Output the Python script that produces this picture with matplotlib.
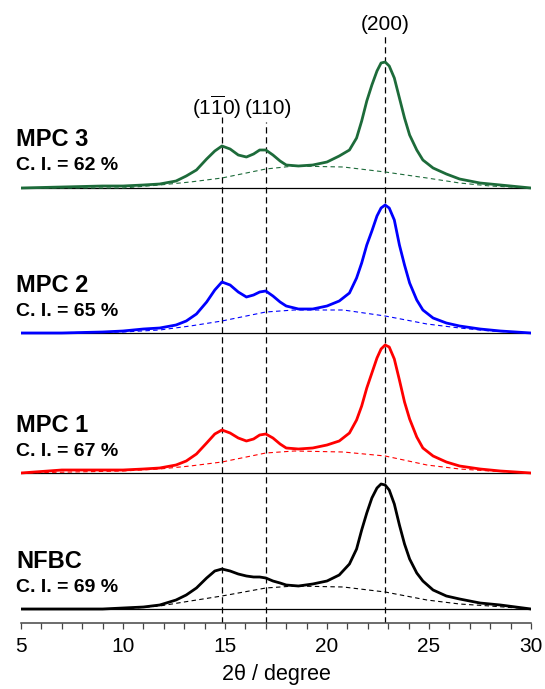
import matplotlib
matplotlib.use("Agg")
import matplotlib.pyplot as plt
import numpy as np

plt.rcParams['font.family'] = ['Liberation Sans', 'DejaVu Sans']
plt.rcParams['mathtext.fontset'] = 'custom'
plt.rcParams['mathtext.rm'] = 'Liberation Sans'

# Data (intensity in arbitrary units)
two_theta = [5, 7, 9, 10, 11, 11.8, 12.6, 13.1, 13.6, 14.1, 14.5, 14.85, 15.25, 15.65,
             16.05, 16.4, 16.7, 17.0, 17.35, 17.7, 18.0, 18.6, 19.3, 20.0, 20.6, 21.1,
             21.45, 21.7, 21.95, 22.2, 22.45, 22.65, 22.85, 23.05, 23.3, 23.55, 23.8,
             24.05, 24.4, 24.7, 25.2, 25.85, 26.5, 27.5, 28.5, 30]
nfbc = [0, 0, 0, 1, 2, 4, 9, 14, 21, 31, 38, 40, 38, 35, 33, 32, 32, 31, 28, 26, 24, 23,
        25, 28, 34, 45, 60, 79, 96, 111, 121, 125, 124, 119, 105, 84, 65, 50, 36, 28,
        19, 13, 10, 6, 4, 0]
mpc1 = [0, 3, 3, 3, 4, 5, 8, 12, 19, 30, 39, 43, 40, 35, 32, 34, 38, 39, 35, 29, 25, 24,
        25, 28, 32, 40, 53, 67, 85, 100, 115, 124, 128, 126, 114, 93, 71, 54, 36, 25,
        17, 11, 7, 4, 2, 0]
mpc2 = [0, 0, 1, 2, 4, 5, 8, 12, 19, 31, 43, 51, 48, 41, 36, 38, 41, 42, 37, 31, 27, 24,
        24, 27, 32, 40, 55, 70, 88, 102, 117, 125, 128, 125, 113, 88, 68, 50, 33, 23,
        15, 10, 7, 4, 2, 0]
mpc3 = [0, 1, 2, 2, 3, 4, 7, 12, 18, 29, 37, 42, 39, 33, 31, 34, 38, 38, 33, 27, 23, 22,
        23, 26, 32, 38, 50, 67, 87, 103, 117, 125, 126, 122, 110, 90, 70, 53, 38, 28,
        20, 14, 9, 5, 3, 0]

# amorphous contribution (dashed)
amorph_x = [5, 10, 11.8, 13.3, 14.85, 17, 18.4, 20.8, 22.85, 24.9, 26.5, 28, 30]
nfbc_am = [0, 0, 3, 8, 13, 21, 23, 22, 17, 9, 5, 3, 0]
mpc1_am = [0, 2, 4, 7, 11, 20, 22, 21, 17, 8, 4, 2, 0]
mpc2_am = [0, 1, 3, 7, 12, 21, 23, 23, 17, 9, 5, 2, 0]
mpc3_am = [0, 0, 3, 6, 10, 19, 22, 21, 16, 10, 5, 2, 0]

names = ['NFBC', 'MPC 1', 'MPC 2', 'MPC 3']
ci = [69, 67, 65, 62]
offsets = [14, 150, 290, 435]
colors = ['black', '#ff0000', '#0000ff', '#1d6b3a']
peaks = [14.85, 17.0, 22.85]

fig = plt.figure(figsize=(5.45, 6.89), dpi=100)
ax = fig.add_axes([21 / 545, 66 / 689, 510 / 545, 623 / 689])

series = [nfbc, mpc1, mpc2, mpc3]
amorph = [nfbc_am, mpc1_am, mpc2_am, mpc3_am]
for i in range(4):
    off = offsets[i]
    ax.plot([5, 30], [off, off], color='black', lw=0.9, zorder=2)
    ax.plot(amorph_x, np.array(amorph[i]) + off, color=colors[i], lw=0.8,
            linestyle=(0, (4, 3)), zorder=3)
    ax.plot(two_theta, np.array(series[i]) + off, color=colors[i], lw=2.0,
            solid_joinstyle='round', zorder=4)
    ax.text(4.75, off + 48, names[i], fontsize=17, fontweight='bold',
            ha='left', va='center', clip_on=False)
    ax.text(4.75, off + 22, 'C. I. = %d %%' % ci[i], fontsize=14, fontweight='bold',
            ha='left', va='center', clip_on=False)

# reflection markers
tops = [506, 501, 590]
for p, t in zip(peaks, tops):
    ax.plot([p, p], [0, t], color='black', lw=0.9, linestyle=(0, (5, 3)), zorder=1)

ax.text(22.85, 599, '(200)', fontsize=15, ha='center', va='center')
ax.text(14.6, 516, r'(1$\overline{\mathrm{1}}$0)', fontsize=15, ha='center', va='center')
ax.text(17.15, 514, '(110)', fontsize=15, ha='center', va='center')

ax.set_xlim(5, 30)
ax.set_ylim(0, 623)
for s in ['top', 'right', 'left']:
    ax.spines[s].set_visible(False)
ax.spines['bottom'].set_linewidth(1.1)
ax.spines['bottom'].set_color('#444444')
ax.set_yticks([])
ax.set_xticks(np.arange(5, 31, 5))
ax.set_xticks(np.arange(5, 31, 1), minor=True)
ax.tick_params(axis='x', which='both', direction='out', length=4, width=0.9,
               color='#444444', labelsize=15, pad=6)
ax.set_xlabel('2θ / degree', fontsize=15.5, labelpad=6)

fig.savefig('out.png', dpi=100)
